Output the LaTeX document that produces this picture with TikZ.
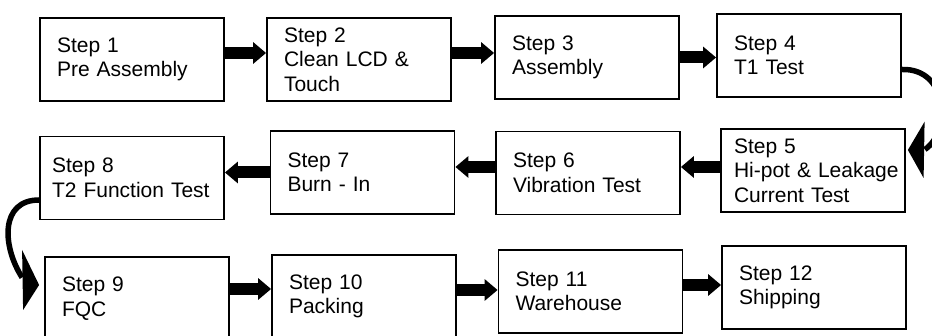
\documentclass[tikz,border=0pt]{standalone}
\usepackage{fontspec}
\setmainfont{Liberation Sans}
\usetikzlibrary{arrows.meta}
\tikzstyle{stepbox}=[draw,line width=1.8pt,minimum width=184pt,minimum height=83pt,text width=150pt,align=left,inner sep=0pt,font=\fontsize{21}{24.5}\selectfont]
\tikzstyle{flow}=[line width=12pt,-{Triangle[width=21pt,length=13pt]}]
\tikzstyle{turn}=[line width=5.5pt]
\tikzstyle{turnhead}=[fill=black]

\begin{document}
\begin{tikzpicture}[x=1pt,y=1pt]
\useasboundingbox (0,0) rectangle (932,336);
\clip (0,0) rectangle (932,336);
\node[stepbox] at (132, 276.5) (s1) {Step 1\\Pre Assembly};
\node[stepbox] at (359, 276.5) (s2) {Step 2\\Clean LCD \&\\Touch};
\node[stepbox] at (587, 278.5) (s3) {Step 3\\Assembly};
\node[stepbox] at (809, 280.5) (s4) {Step 4\\T1 Test};
\node[stepbox, text width=158pt] at (813, 165.5) (s5) {Step 5\\\mbox{Hi-pot \& Leakage}\\Current Test};
\node[stepbox] at (588, 163) (s6) {Step 6\\Vibration Test};
\node[stepbox] at (362.5, 163.5) (s7) {Step 7\\Burn - In};
\node[stepbox, text width=160pt] at (132, 158) (s8) {Step 8\\\mbox{T2 Function Test}};
\node[stepbox] at (137, 37.5) (s9) {Step 9\\FQC};
\node[stepbox] at (364, 39.5) (s10) {Step 10\\Packing};
\node[stepbox] at (590.5, 44.5) (s11) {Step 11\\Warehouse};
\node[stepbox] at (814, 48.5) (s12) {Step 12\\Shipping};
\draw[flow] ([yshift=6.5pt]s1.east) -- ([yshift=6.5pt]s1.east -| s2.west);
\draw[flow] ([yshift=6.5pt]s2.east) -- ([yshift=6.5pt]s2.east -| s3.west);
\draw[flow] (s3.east) -- (s3.east -| s4.west);
\draw[turn] ([yshift=-14pt]s4.east) .. controls (948, 268) and (952, 205) .. ([shift={(19,21)}]s5.east);
\fill[turnhead] ([shift={(18.7,48.8)}]s5.east) -- ([shift={(2,20.5)}]s5.east) -- ([shift={(17.7,-7.5)}]s5.east) -- cycle;
\draw[flow] ([yshift=3.5pt]s5.west) -- ([yshift=3.5pt]s5.west -| s6.east);
\draw[flow] ([yshift=6pt]s6.west) -- ([yshift=6pt]s6.west -| s7.east);
\draw[flow] (s7.west) -- (s7.west -| s8.east);
\draw[turn] ([yshift=-22pt]s8.west) .. controls (0, 136) and (2, 90) .. ([shift={(-22,21)}]s9.west);
\fill[turnhead] ([shift={(-22,48.5)}]s9.west) -- ([shift={(-5,13.5)}]s9.west) -- ([shift={(-21,-11.5)}]s9.west) -- cycle;
\draw[flow] ([yshift=9.5pt]s9.east) -- ([yshift=9.5pt]s9.east -| s10.west);
\draw[flow] ([yshift=6.5pt]s10.east) -- ([yshift=6.5pt]s10.east -| s11.west);
\draw[flow] ([yshift=6.5pt]s11.east) -- ([yshift=6.5pt]s11.east -| s12.west);
\end{tikzpicture}
\end{document}
